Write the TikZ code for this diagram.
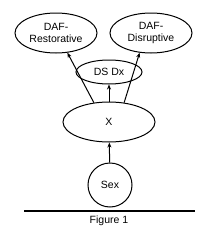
\documentclass[tikz,border=0pt]{standalone}
\usepackage{fontspec}
\setmainfont{Liberation Sans}
\usetikzlibrary{arrows.meta,shapes.geometric}

\begin{document}
\begin{tikzpicture}[x=1pt, y=-1pt, font=\fontsize{10.5}{11.5}\selectfont,
    oval/.style={ellipse, draw, line width=1pt, inner sep=0pt, align=center},
    link/.style={-{Stealth[length=5pt,width=4pt]}, line width=1pt}]
    \useasboundingbox (0,0) rectangle (219,239);

    % Variables
    \node[oval, minimum width=82pt, minimum height=40pt] (daf_r) at (56,33) {DAF-\\Restorative};
    \node[oval, minimum width=82pt, minimum height=40pt] (daf_d) at (151,33) {DAF-\\Disruptive};
    \node[oval, minimum width=66pt, minimum height=24pt] (ds_dx) at (109,72) {DS Dx};
    \node[oval, minimum width=92pt, minimum height=40pt] (x) at (109,122) {X};
    \node[circle, draw, line width=1pt, minimum size=44pt, inner sep=0pt] (sex) at (110,185) {Sex};

    % Arrows
    \draw[link] (sex) -- (x);
    \draw[link] (x) -- (ds_dx);
    \draw[link] (x.128) -- (daf_r.-60);
    \draw[link] (x.52) -- (daf_d.-120);

    % Caption
    \coordinate (base_l) at (24,211);
    \coordinate (base_r) at (195,211);
    \draw[line width=1.2pt] (base_l) -- (base_r);
    \node (caption) at (109,221) {Figure 1};
\end{tikzpicture}
\end{document}
